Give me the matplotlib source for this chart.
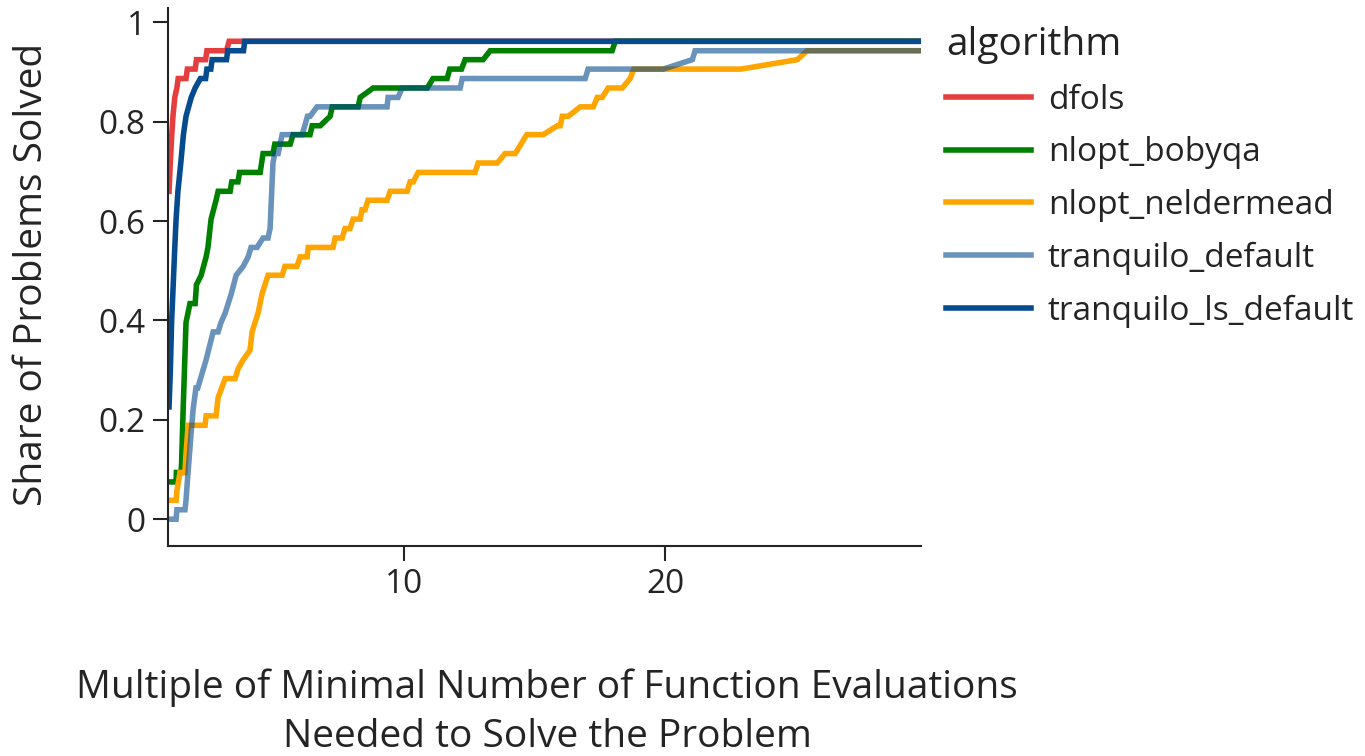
import matplotlib
matplotlib.use("Agg")
import matplotlib.pyplot as plt

plt.rcParams['font.family'] = ['Open Sans', 'DejaVu Sans']

algorithms = ["dfols", "nlopt_bobyqa", "nlopt_neldermead", "tranquilo_default", "tranquilo_ls_default"]

dfols_x = [1.0, 1.05, 1.10, 1.15, 1.22, 1.30, 1.35, 1.65, 1.70, 2.00, 2.05, 2.40, 2.45, 3.20, 3.30, 29.8]
dfols_y = [0.660, 0.720, 0.770, 0.811, 0.849, 0.868, 0.887, 0.887, 0.906, 0.906, 0.925, 0.925, 0.943, 0.943, 0.962, 0.962]

bobyqa_x = [1.0, 1.27, 1.28, 1.46, 1.48, 1.54, 1.65, 1.80, 2.00, 2.05, 2.23, 2.42, 2.49, 2.61, 2.80, 2.88,
            3.34, 3.40, 3.64, 3.70, 4.49, 4.60, 4.98, 5.05, 5.64, 5.75, 6.40, 6.48, 6.79, 7.17, 7.25, 8.24,
            8.32, 8.82, 10.89, 11.11, 11.65, 11.75, 12.20, 12.34, 13.03, 13.30, 17.97, 18.09, 29.8]
bobyqa_y = [0.075, 0.075, 0.094, 0.094, 0.113, 0.220, 0.396, 0.434, 0.434, 0.472, 0.491, 0.528, 0.547, 0.604, 0.642, 0.660,
            0.660, 0.679, 0.679, 0.698, 0.698, 0.736, 0.736, 0.755, 0.755, 0.774, 0.774, 0.792, 0.792, 0.811, 0.830, 0.830,
            0.849, 0.868, 0.868, 0.887, 0.887, 0.906, 0.906, 0.925, 0.925, 0.943, 0.943, 0.962, 0.962]

neldermead_x = [1.0, 1.27, 1.30, 1.42, 1.61, 1.65, 1.73, 1.84, 2.38, 2.42, 2.80, 2.88, 3.15, 3.53, 3.64, 3.84,
                4.10, 4.18, 4.41, 4.56, 4.79, 5.33, 5.44, 5.90, 6.02, 6.29, 6.33, 7.28, 7.36, 7.63, 7.74, 7.93,
                8.05, 8.32, 8.39, 8.51, 8.62, 9.35, 9.47, 10.12, 10.23, 10.35, 10.54, 12.72, 12.84, 13.57, 13.87,
                14.26, 14.70, 15.33, 15.87, 15.98, 16.06, 16.29, 16.75, 17.25, 17.40, 17.59, 17.82, 18.36, 18.66,
                18.80, 22.90, 25.06, 25.44, 29.8]
neldermead_y = [0.038, 0.038, 0.057, 0.094, 0.094, 0.132, 0.189, 0.189, 0.189, 0.208, 0.208, 0.245, 0.283, 0.283, 0.302, 0.321,
                0.340, 0.377, 0.415, 0.453, 0.491, 0.491, 0.509, 0.509, 0.528, 0.528, 0.547, 0.547, 0.566, 0.566, 0.585, 0.585,
                0.604, 0.604, 0.623, 0.623, 0.642, 0.642, 0.660, 0.660, 0.679, 0.679, 0.698, 0.698, 0.717, 0.717, 0.736,
                0.736, 0.774, 0.774, 0.792, 0.792, 0.811, 0.811, 0.830, 0.830, 0.849, 0.849, 0.868, 0.868, 0.887,
                0.906, 0.906, 0.925, 0.943, 0.943]

tranq_x = [1.0, 1.27, 1.30, 1.61, 1.65, 1.70, 1.84, 1.92, 2.03, 2.10, 2.42, 2.69, 2.88, 2.99, 3.15, 3.38,
           3.57, 3.84, 4.03, 4.14, 4.37, 4.60, 4.79, 4.87, 4.98, 5.05, 5.18, 5.33, 6.10, 6.20, 6.30, 6.40,
           6.67, 9.35, 9.39, 9.77, 9.93, 12.15, 12.23, 16.94, 17.05, 19.93, 21.04, 21.15, 29.8]
tranq_y = [0.000, 0.000, 0.019, 0.019, 0.038, 0.075, 0.170, 0.220, 0.264, 0.264, 0.321, 0.377, 0.377, 0.396, 0.415, 0.453,
           0.491, 0.509, 0.528, 0.547, 0.547, 0.566, 0.566, 0.585, 0.717, 0.736, 0.736, 0.774, 0.774, 0.792, 0.811, 0.811,
           0.830, 0.830, 0.849, 0.849, 0.868, 0.868, 0.887, 0.887, 0.906, 0.906, 0.925, 0.943, 0.943]

tranq_ls_x = [1.0, 1.05, 1.10, 1.15, 1.22, 1.27, 1.34, 1.45, 1.55, 1.65, 1.85, 2.00, 2.20, 2.40, 2.45, 2.60,
              2.65, 3.20, 3.25, 3.85, 3.90, 29.8]
tranq_ls_y = [0.226, 0.300, 0.400, 0.460, 0.547, 0.604, 0.660, 0.717, 0.774, 0.811, 0.849, 0.868, 0.887, 0.887, 0.906, 0.906,
              0.925, 0.925, 0.943, 0.943, 0.962, 0.962]

colors = ["#E53E3E", "#008000", "#FFA500", "#054B8E", "#054B8E"]
alphas = [1.0, 1.0, 1.0, 0.6, 1.0]

y_ticks = [0, 0.2, 0.4, 0.6, 0.8, 1.0]
y_tick_labels = ["0", "0.2", "0.4", "0.6", "0.8", "1"]
x_ticks = [10, 20]
x_tick_labels = ["10", "20"]

series = [(dfols_x, dfols_y), (bobyqa_x, bobyqa_y), (neldermead_x, neldermead_y),
          (tranq_x, tranq_y), (tranq_ls_x, tranq_ls_y)]

W, H = 1365, 756
fig = plt.figure(figsize=(W / 100, H / 100), dpi=100)
L, R, T, B = 168, 921, 8, 546
ax = fig.add_axes([L / W, 1 - B / H, (R - L) / W, (B - T) / H])

txt = "#242424"
LW = 4.0
for (xs, ys), name, c, a in zip(series, algorithms, colors, alphas):
    ax.plot(xs, ys, color=c, alpha=a, lw=LW, label=name, solid_joinstyle='miter')

ax.set_xlim(0.96, 29.8)
ax.set_ylim(-0.054, 1.029)
ax.set_yticks(y_ticks)
ax.set_yticklabels(y_tick_labels)
ax.set_xticks(x_ticks)
ax.set_xticklabels(x_tick_labels)
for s in ["top", "right"]:
    ax.spines[s].set_visible(False)
for s in ["left", "bottom"]:
    ax.spines[s].set_color(txt)
    ax.spines[s].set_linewidth(1.5)
ax.tick_params(axis="both", direction="out", length=11, width=1.5, color=txt,
               labelsize=24, labelcolor=txt, pad=5)

ax.set_ylabel("Share of Problems Solved", fontsize=28, color=txt, va="center")
ax.yaxis.set_label_coords((32 - L) / (R - L), (B - 274) / (B - T))
ax.set_xlabel("Multiple of Minimal Number of Function Evaluations\nNeeded to Solve the Problem",
              fontsize=28, color=txt, va="center", linespacing=1.39)
ax.xaxis.set_label_coords((547 - L) / (R - L), (B - 712) / (B - T))

leg = ax.legend(loc="upper left", bbox_to_anchor=(946 / W, 1 - 26 / H),
                bbox_transform=fig.transFigure, frameon=False, fontsize=24,
                title="algorithm", title_fontsize=28, handlelength=2.55,
                handletextpad=0.5, labelspacing=0.59, borderaxespad=0, borderpad=0,
                alignment="left")
for t in leg.get_texts():
    t.set_color(txt)
leg.get_title().set_color(txt)
for h in leg.legend_handles:
    h.set_linewidth(LW)

fig.savefig("out.png", dpi=100)
